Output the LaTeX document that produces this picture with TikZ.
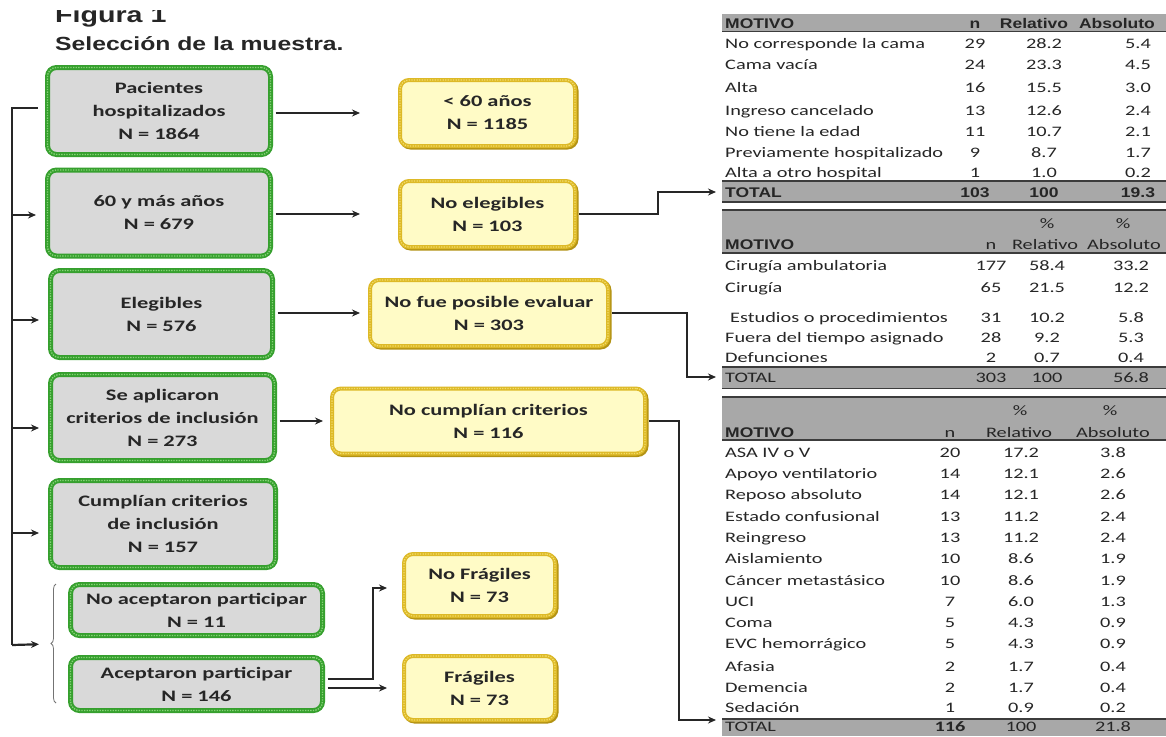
\documentclass[tikz,border=0pt]{standalone}
\usepackage{fontspec}
\setmainfont{Carlito}
\newfontfamily\bxf[FakeStretch=1.4]{Carlito}
\newfontfamily\tbf[FakeStretch=1.4]{Carlito}
\newfontfamily\hdf[FakeStretch=1.25]{Liberation Sans}
\newfontfamily\ttlf[FakeStretch=1.3]{Liberation Sans}
\usetikzlibrary{arrows.meta,calc,decorations.pathreplacing}
\definecolor{gborder}{HTML}{36A02E}
\definecolor{glight}{HTML}{86D277}
\definecolor{gfill}{HTML}{D9D9D9}
\definecolor{yfill}{HTML}{FFFBC6}
\definecolor{ygold}{HTML}{DDB927}
\definecolor{ydark}{HTML}{B39314}
\definecolor{ylight}{HTML}{F2DC6A}
\definecolor{band}{HTML}{A8A8A8}
\definecolor{bline}{HTML}{3C3C3C}
\definecolor{ttext}{HTML}{262626}
\newcommand\hdb{\hdf\bfseries\fontsize{14}{16}\selectfont}
\newcommand\trow[6]{%
  \node[tl, anchor=base west] (#1a) at (725,#2+5) {#3};
  \node[tl, anchor=base] (#1b) at (\colN,#2+5) {#4};
  \node[tl, anchor=base] (#1c) at (\colR,#2+5) {#5};
  \node[tl, anchor=base] (#1d) at (\colA,#2+5) {#6};}
\begin{document}
\begin{tikzpicture}[x=1pt,y=-1pt,
  gbox/.style={rectangle, rounded corners=9pt, fill=gfill, draw=gborder, line width=5pt,
    align=center, inner sep=0pt, font=\bxf\bfseries\fontsize{16}{23}\selectfont, text=black!85,
    postaction={draw=glight, line width=1.4pt, dash pattern=on 1.3pt off 1.3pt}},
  ybox/.style={rectangle, rounded corners=9pt, fill=yfill, draw=ygold, line width=4pt,
    align=center, inner sep=0pt, font=\bxf\bfseries\fontsize{16}{23}\selectfont, text=black!85,
    preaction={draw=ydark, line width=4pt, transform canvas={xshift=1.5pt,yshift=-1.5pt}},
    postaction={draw=ylight, line width=1.2pt, dash pattern=on 1.3pt off 1.3pt}},
  conn/.style={line width=2.2pt, black!85},
  arr/.style={conn, -{Stealth[length=8pt,width=7pt]}},
  tl/.style={inner sep=0pt, text=ttext, font=\tbf\fontsize{14.5}{16}\selectfont},
  tlab/.style={inner sep=0pt, text=black!85}]
\useasboundingbox (0,0) rectangle (1166,736);
\fill[white] (0,0) rectangle (1166,736);

% title
\begin{scope}
\clip (0,10) rectangle (400,40);
\node[tlab, anchor=base west, font=\ttlf\bfseries\fontsize{22}{24}\selectfont] (fig) at (55,22) {Figura 1};
\end{scope}
\node[tlab, anchor=base west, font=\ttlf\bfseries\fontsize{19}{22}\selectfont] (title) at (55,50) {Selección de la muestra.};

% green boxes
\node[gbox, minimum width=223pt, minimum height=87pt] (b1) at (159,111) {Pacientes\\hospitalizados\\N = 1864};
\node[gbox, minimum width=223pt, minimum height=86pt] (b2) at (159,213) {60 y más años\\N = 679};
\node[gbox, minimum width=222pt, minimum height=87pt] (b3) at (161.5,314) {Elegibles\\N = 576};
\node[gbox, minimum width=224pt, minimum height=86pt] (b4) at (162.5,417.5) {Se aplicaron\\criterios de inclusión\\N = 273};
\node[gbox, minimum width=225pt, minimum height=87pt] (b5) at (163,524) {Cumplían criterios\\de inclusión\\N = 157};
\node[gbox, minimum width=252pt, minimum height=51pt] (b6) at (196.5,610) {No aceptaron participar\\N = 11};
\node[gbox, minimum width=252pt, minimum height=53pt] (b7) at (196.5,684) {Aceptaron participar\\N = 146};

% yellow boxes
\node[ybox, minimum width=175pt, minimum height=66pt] (lt60) at (487.5,113) {< 60 años\\N = 1185};
\node[ybox, minimum width=175pt, minimum height=66pt] (nel) at (487.5,214) {No elegibles\\N = 103};
\node[ybox, minimum width=238pt, minimum height=66pt] (nf) at (489,313) {No fue posible evaluar\\N = 303};
\node[ybox, minimum width=313pt, minimum height=65pt] (ncu) at (488.5,421) {No cumplían criterios\\N = 116};
\node[ybox, minimum width=151pt, minimum height=62pt] (nfr) at (479.5,585) {No Frágiles\\N = 73};
\node[ybox, minimum width=151pt, minimum height=64pt] (fr) at (479.5,688) {Frágiles\\N = 73};

% left spine
\coordinate (ltop) at (12,108);
\coordinate (lbot) at (12,645);
\coordinate (brc) at (48,644);
\draw[conn, shorten >=7pt] (lbot) -- (ltop) -- (b1.west |- ltop);
\draw[arr, shorten >=9pt] ($(ltop |- b2.west)+(0,-2pt)$) -- ($(b2.west)+(0,-2pt)$);
\draw[arr, shorten >=9pt] ($(ltop |- b3.west)+(0,-6pt)$) -- ($(b3.west)+(0,-6pt)$);
\draw[arr, shorten >=9pt] ($(ltop |- b4.west)+(0,-10.5pt)$) -- ($(b4.west)+(0,-10.5pt)$);
\draw[arr, shorten >=9pt] ($(ltop |- b5.west)+(0,-9pt)$) -- ($(b5.west)+(0,-9pt)$);
\draw[arr, shorten >=9pt] (lbot) -- (brc);
\draw[black!55, line width=0.8pt, decorate, decoration={brace, amplitude=5pt}] (56,703) -- (56,584);

% horizontal arrows
\draw[arr, shorten <=2.5pt, shorten >=38pt] (b1.east |- lt60.west) -- (lt60.west);
\draw[arr, shorten <=2.5pt, shorten >=38pt] (b2.east |- nel.west) -- (nel.west);
\draw[arr, shorten <=2.5pt, shorten >=8pt] (b3.east |- nf.west) -- (nf.west);
\draw[arr, shorten <=2.5pt, shorten >=7pt] (b4.east |- ncu.west) -- (ncu.west);
\coordinate (fk) at (373,588);
\draw[arr, shorten <=2.5pt, shorten >=15pt] ([yshift=5pt]b7.east) -| (fk) -- (nfr.west |- fk);
\draw[arr, shorten <=2.5pt, shorten >=15pt] ([yshift=-4pt]b7.east) -- (fr.west);

% connectors to tables
\coordinate (t1in) at (716,192);
\coordinate (t2in) at (716,377);
\coordinate (t3in) at (716,720);
\coordinate (t1k) at (658,192);
\coordinate (t2k) at (687,377);
\coordinate (t3k) at (679,720);
\draw[arr, shorten <=2pt] (nel.east) -| (t1k) -- (t1in);
\draw[arr, shorten <=2pt] (nf.east) -| (t2k) -- (t2in);
\draw[arr, shorten <=2pt] (ncu.east) -| (t3k) -- (t3in);

% table bands
\fill[band] (722,14) rectangle (1166,31);
\fill[band] (722,181) rectangle (1166,202);
\fill[band] (722,210) rectangle (1166,253);
\fill[band] (722,367) rectangle (1166,388);
\fill[band] (722,397) rectangle (1166,440);
\fill[band] (722,719) rectangle (1166,736);
\begin{scope}[bline, line width=1.6pt]
\draw (722,31.5) -- (1166,31.5);
\draw (722,181) -- (1166,181);
\draw (722,202) -- (1166,202);
\draw (722,210) -- (1166,210);
\draw (722,253) -- (1166,253);
\draw (722,367) -- (1166,367);
\draw (722,388.5) -- (1166,388.5);
\draw (722,397) -- (1166,397);
\draw (722,440) -- (1166,440);
\draw (722,719) -- (1166,719);
\end{scope}

% table 1
\def\colN{975}\def\colR{1044}\def\colA{1138}
\node[tl, anchor=base west] (h1a) at (725,28) {\hdb MOTIVO};
\node[tl, anchor=base] (h1b) at (975,28) {\hdb n};
\node[tl, anchor=base] (h1c) at (1034,28) {\hdb Relativo};
\node[tl, anchor=base] (h1d) at (1117,28) {\hdb Absoluto};
\trow{ta1}{43}{No corresponde la cama}{29}{28.2}{5.4}
\trow{ta2}{64}{Cama vacía}{24}{23.3}{4.5}
\trow{ta3}{87}{Alta}{16}{15.5}{3.0}
\trow{ta4}{110}{Ingreso cancelado}{13}{12.6}{2.4}
\trow{ta5}{131}{No tiene la edad}{11}{10.7}{2.1}
\trow{ta6}{152}{Previamente hospitalizado}{9}{8.7}{1.7}
\trow{ta7}{172}{Alta a otro hospital}{1}{1.0}{0.2}
\trow{ta8}{192}{\hdb TOTAL}{\hdb 103}{\hdb 100}{\hdb 19.3}

% table 2
\def\colN{991}\def\colR{1047}\def\colA{1131}
\node[tl, anchor=base] (p2a) at (1047,228) {\%};
\node[tl, anchor=base] (p2b) at (1123,228) {\%};
\node[tl, anchor=base west] (h2a) at (725,249) {\hdb MOTIVO};
\node[tl, anchor=base] (h2b) at (991,249) {n};
\node[tl, anchor=base] (h2c) at (1045,249) {Relativo};
\node[tl, anchor=base] (h2d) at (1124,249) {Absoluto};
\trow{tb1}{265}{Cirugía ambulatoria}{177}{58.4}{33.2}
\trow{tb2}{287}{Cirugía}{65}{21.5}{12.2}
\trow{tb3}{317}{\hspace{5pt}Estudios o procedimientos}{31}{10.2}{5.8}
\trow{tb4}{337}{Fuera del tiempo asignado}{28}{9.2}{5.3}
\trow{tb5}{357}{Defunciones}{2}{0.7}{0.4}
\trow{tb6}{377}{TOTAL}{303}{100}{56.8}

% table 3
\def\colN{950}\def\colR{1021}\def\colA{1113}
\node[tl, anchor=base] (p3a) at (1020,415) {\%};
\node[tl, anchor=base] (p3b) at (1110,415) {\%};
\node[tl, anchor=base west] (h3a) at (725,437) {\hdb MOTIVO};
\node[tl, anchor=base] (h3b) at (950,437) {n};
\node[tl, anchor=base] (h3c) at (1019,437) {Relativo};
\node[tl, anchor=base] (h3d) at (1113,437) {Absoluto};
\trow{tc1}{452}{ASA IV o V}{20}{17.2}{3.8}
\trow{tc2}{473}{Apoyo ventilatorio}{14}{12.1}{2.6}
\trow{tc3}{494}{Reposo absoluto}{14}{12.1}{2.6}
\trow{tc4}{516}{Estado confusional}{13}{11.2}{2.4}
\trow{tc5}{537}{Reingreso}{13}{11.2}{2.4}
\trow{tc6}{558}{Aislamiento}{10}{8.6}{1.9}
\trow{tc7}{580}{Cáncer metastásico}{10}{8.6}{1.9}
\trow{tc8}{601}{UCI}{7}{6.0}{1.3}
\trow{tc9}{622}{Coma}{5}{4.3}{0.9}
\trow{tc10}{643}{EVC hemorrágico}{5}{4.3}{0.9}
\trow{tc11}{666}{Afasia}{2}{1.7}{0.4}
\trow{tc12}{687}{Demencia}{2}{1.7}{0.4}
\trow{tc13}{707}{Sedación}{1}{0.9}{0.2}
\trow{tc14}{726}{TOTAL}{\textbf{116}}{100}{21.8}
\end{tikzpicture}
\end{document}
